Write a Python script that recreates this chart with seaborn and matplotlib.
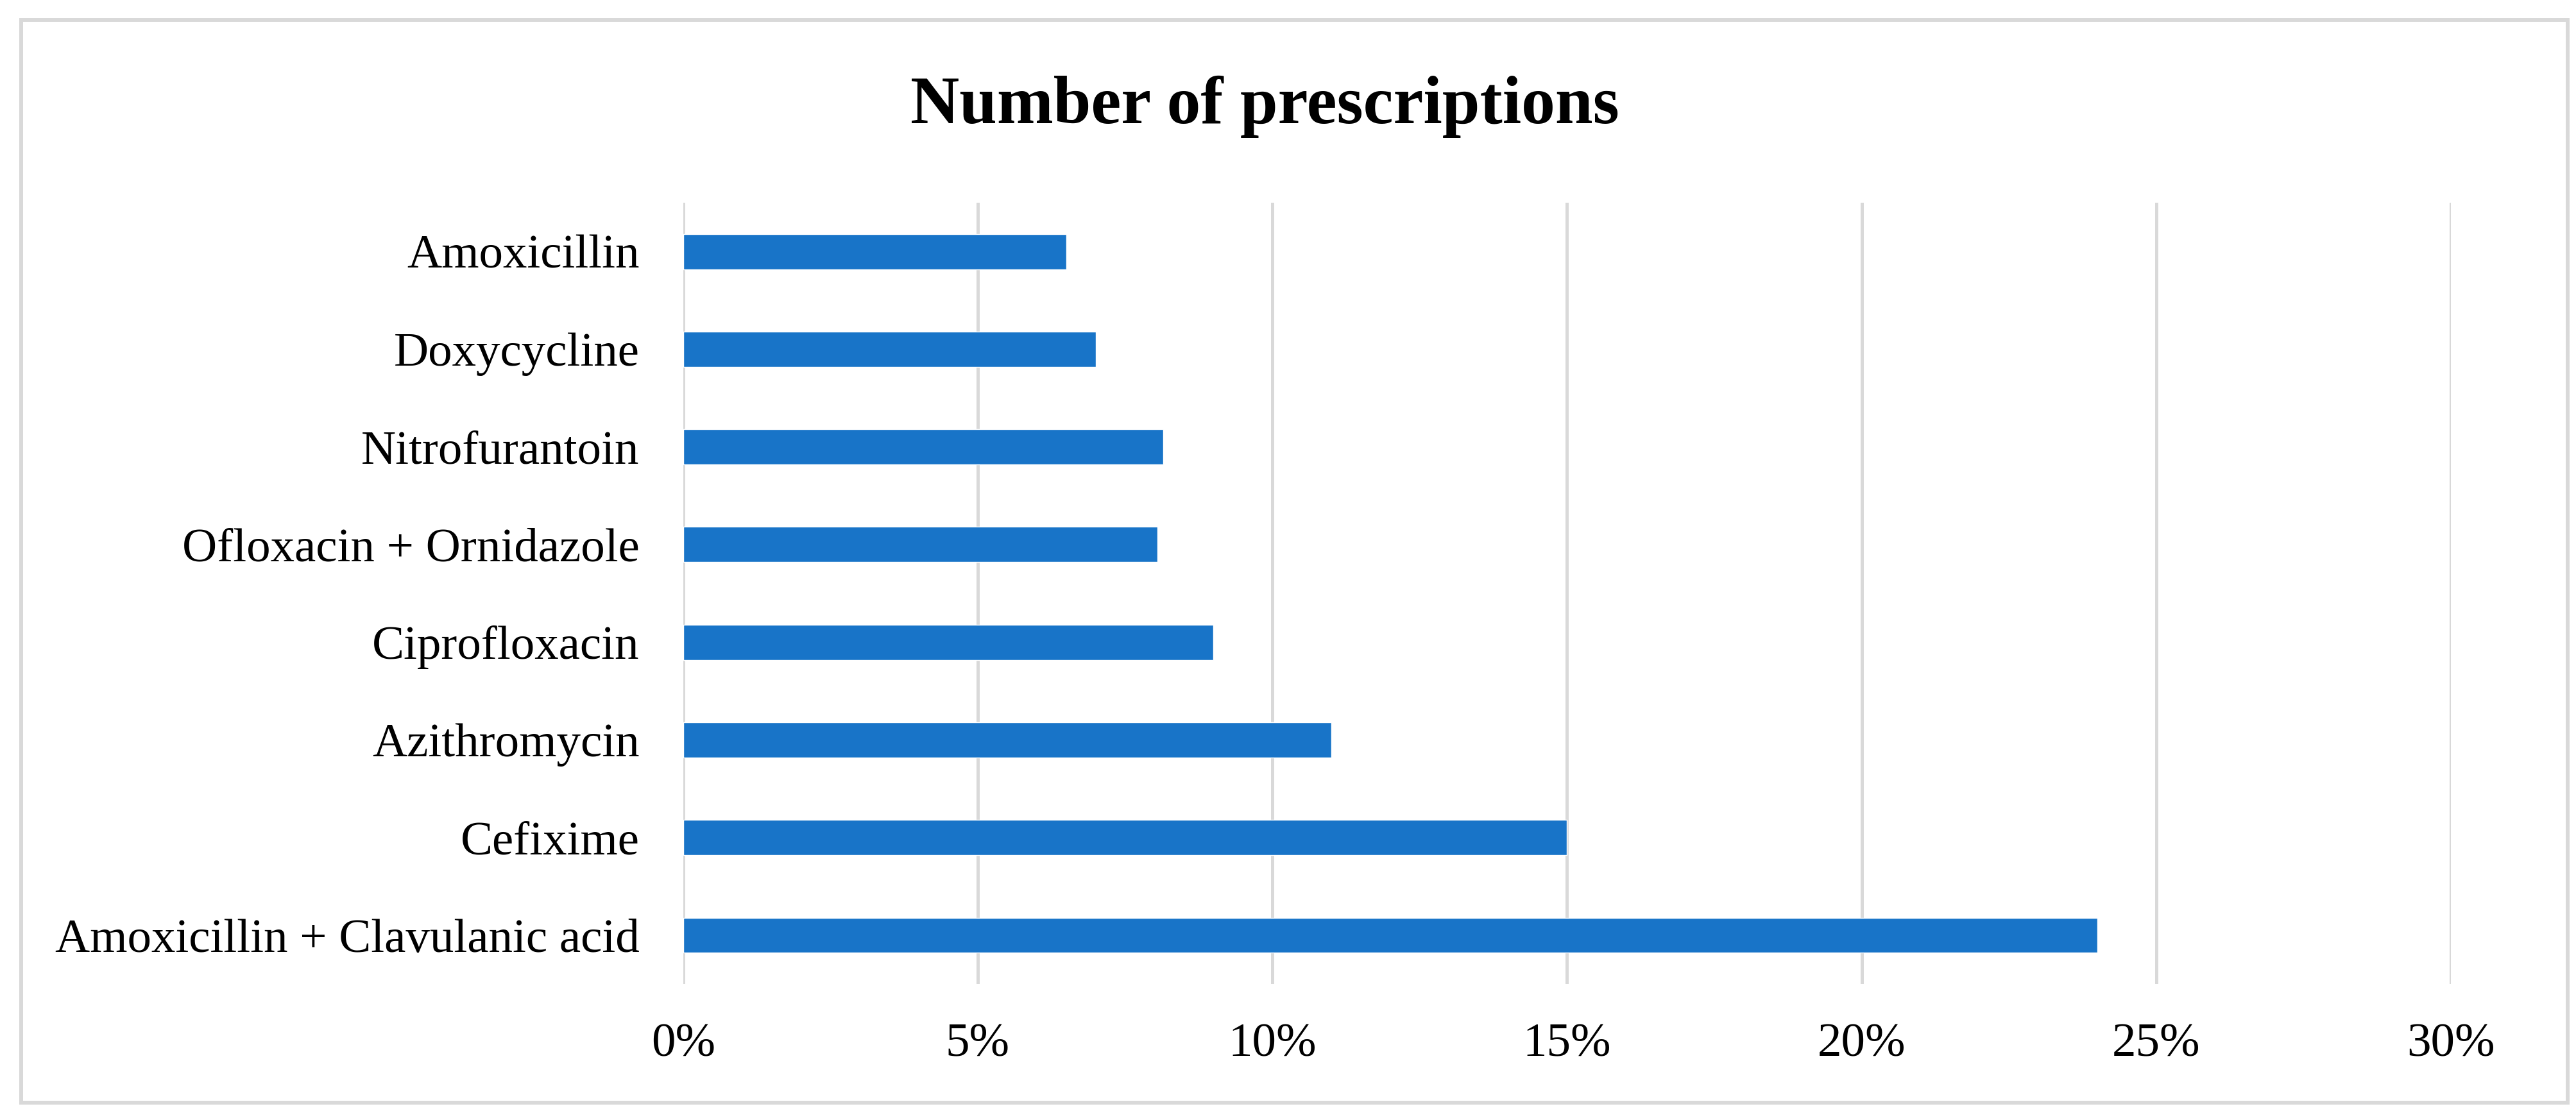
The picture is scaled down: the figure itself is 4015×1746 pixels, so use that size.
import numpy as np
import pandas as pd
import matplotlib
matplotlib.use("Agg")
import matplotlib.pyplot as plt
import seaborn as sns
from matplotlib.patches import Rectangle
from matplotlib.ticker import PercentFormatter

# %% ── Data (share of prescriptions, %) ──────────────────────────────────────
drugs = [
    "Amoxicillin",
    "Doxycycline",
    "Nitrofurantoin",
    "Ofloxacin + Ornidazole",
    "Ciprofloxacin",
    "Azithromycin",
    "Cefixime",
    "Amoxicillin + Clavulanic acid",
]
share_pct = [6.5, 7.0, 8.15, 8.05, 9.0, 11.0, 15.0, 24.0]
x_ticks = [0, 5, 10, 15, 20, 25, 30]

df = pd.DataFrame({"drug": drugs, "share": share_pct})

# %% ── Style ─────────────────────────────────────────────────────────────────
sns.set_theme(style="white")
plt.rcParams["font.family"] = ["Liberation Serif", "DejaVu Serif"]
plt.rcParams["text.color"] = "black"
plt.rcParams["xtick.color"] = "black"
plt.rcParams["ytick.color"] = "black"

BAR_COLOR = "#1874c8"
GRID_COLOR = "#d9d9d9"

fig = plt.figure(figsize=(40.15, 17.46), dpi=100)
ax = fig.add_axes([0.2652, 0.1214, 0.6862, 0.6976])

sns.barplot(data=df, y="drug", x="share", order=drugs, orient="h",
            color=BAR_COLOR, width=0.36, saturation=1, ax=ax, zorder=3)

ax.set_xlim(0, 30)
ax.set_xticks(x_ticks)
ax.xaxis.set_major_formatter(PercentFormatter(xmax=100, decimals=0))
ax.grid(axis="x", color=GRID_COLOR, linewidth=3.6, zorder=0)
ax.set_axisbelow(True)
for s in ax.spines.values():
    s.set_visible(False)
ax.tick_params(axis="both", length=0, labelsize=54, labelcolor="black")
ax.tick_params(axis="x", pad=44)
ax.tick_params(axis="y", pad=49)
ax.set_xlabel("")
ax.set_ylabel("")

fig.text(0.491, 0.890, "Number of prescriptions", ha="center", va="baseline",
         fontsize=76, fontweight="bold", color="black")

# outer chart border
fig.patches.append(Rectangle((0.0082, 0.0155), 0.9885, 0.9668,
                             transform=fig.transFigure, fill=False,
                             edgecolor=GRID_COLOR, linewidth=4.3))

fig.savefig("out.png", dpi=100, facecolor="white")
